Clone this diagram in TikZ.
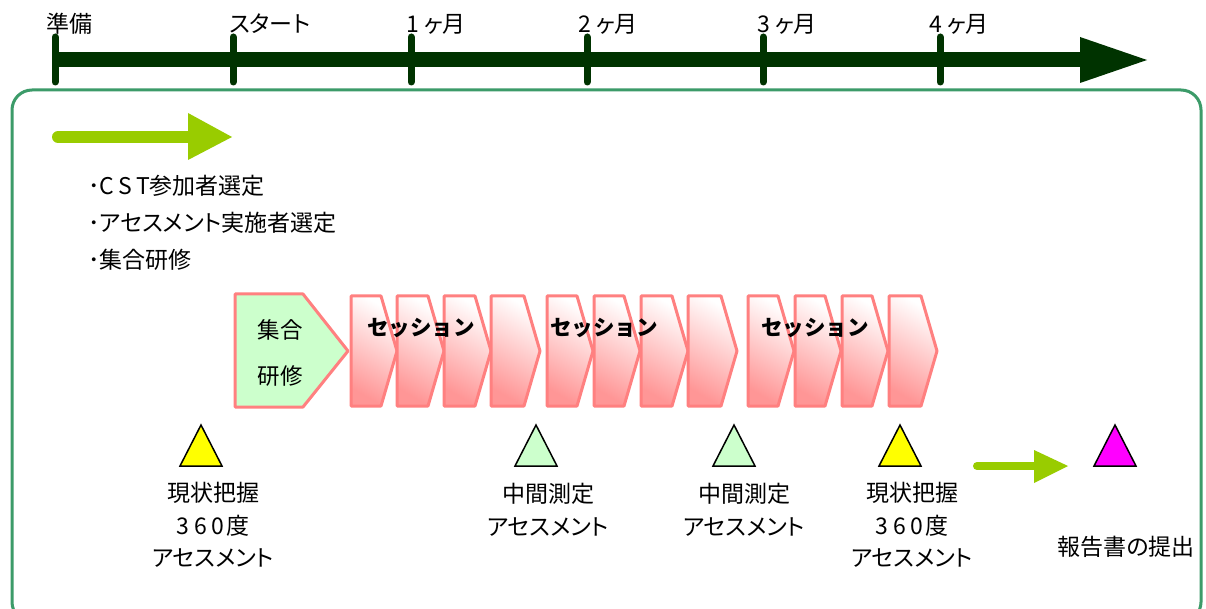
\documentclass[tikz,border=0pt]{standalone}
\usepackage{fontspec}
\setmainfont[RawFeature=+palt]{Noto Sans CJK JP}
\newfontfamily\jpfix{Noto Sans CJK JP}
\definecolor{tl}{RGB}{0,51,0}
\definecolor{lime}{RGB}{153,204,0}
\definecolor{frame}{RGB}{60,155,105}
\definecolor{pinkedge}{RGB}{255,128,128}
\definecolor{pinkfill}{RGB}{255,150,150}
\definecolor{lgreen}{RGB}{204,255,204}
\definecolor{yel}{RGB}{255,255,0}
\definecolor{mag}{RGB}{255,0,255}
\tikzset{
  txt/.style={inner sep=0pt, font=\fontsize{23}{25}\selectfont},
  toplabel/.style={txt, anchor=west},
  tick/.style={draw=tl, line width=7pt, line cap=round},
  chev/.style={draw=pinkedge, line width=3pt, line join=round, top color=white, bottom color=pinkfill, shading angle=-30},
  marker/.style={draw=black, line width=1.5pt, line join=miter},
  lbl/.style={inner sep=0pt, align=center, font=\fontsize{23}{32.5}\selectfont},
  sess/.style={inner sep=0pt, font=\jpfix\bfseries\fontsize{21.5}{25}\selectfont},
}
\begin{document}
\begin{tikzpicture}[x=1pt,y=-1pt]
\useasboundingbox[fill=white] (0,0) rectangle (1206,609);
% frame
\draw[frame, line width=3pt, rounded corners=20pt] (12,90) rectangle (1201,622);
% timeline
\coordinate (tlA) at (55,60);
\coordinate (tlB) at (1084,60);
\draw[tl, line width=15pt] (tlA) -- (tlB);
\fill[tl] (1080,37) -- (1147,60) -- (1080,83) -- cycle;
\foreach \x/\n in {55/t0,233/t1,411/t2,587/t3,763/t4,940/t5}{
  \coordinate (\n a) at (\x,37);
  \coordinate (\n b) at (\x,82);
  \draw[tick] (\n a) -- (\n b);
}
\node[toplabel] (l0) at (46,24) {準備};
\node[toplabel] (l1) at (229,24) {スタート};
\node[toplabel] (l2) at (406,24) {1 ヶ月};
\node[toplabel] (l3) at (578,24) {2 ヶ月};
\node[toplabel] (l4) at (757,24) {3 ヶ月};
\node[toplabel] (l5) at (929,24) {4 ヶ月};
% top green arrow
\coordinate (ga1) at (58,137);
\coordinate (ga2) at (190,137);
\draw[lime, line width=12pt, line cap=round] (ga1) -- (ga2);
\fill[lime] (188,113) -- (232,137) -- (188,160) -- cycle;
% list
\node[toplabel] (li1) at (88,186) {･C\kern4pt S\kern4pt T参加者選定};
\node[toplabel] (li2) at (88,223) {･アセスメント実施者選定};
\node[toplabel] (li3) at (88,260) {･集合研修};
% green pentagon
\path[draw=pinkedge, fill=lgreen, line width=3pt, line join=round] (235,294) -- (303,294) -- (348,351) -- (303,407) -- (235,407) -- cycle;
\node[lbl, font=\fontsize{22.5}{46}\selectfont] (shugo) at (280,353) {集合\\研修};
% chevrons
\foreach \x/\w in {351/46,397/47,444/47,491/49,547/46,594/46,641/47,688/49,748/46,795/46,842/46,889/48}{
  \path[chev] (\x,296) -- ({\x+\w-16},296) -- ({\x+\w},351) -- ({\x+\w-16},406) -- (\x,406) -- cycle;
}
\node[sess] (s1) at (421,328) {セッション};
\node[sess] (s2) at (604,328) {セッション};
\node[sess] (s3) at (815,328) {セッション};
% triangles
\path[marker, fill=yel] (180,466) -- (201,425) -- (222,466) -- cycle;
\path[marker, fill=lgreen] (515,466) -- (536,425) -- (557,466) -- cycle;
\path[marker, fill=lgreen] (713,466) -- (734,425) -- (755,466) -- cycle;
\path[marker, fill=yel] (879,466) -- (900,425) -- (921,466) -- cycle;
\path[marker, fill=mag] (1094,466) -- (1115,425) -- (1136,466) -- cycle;
\node[lbl] (a1) at (213,525) {現状把握\\3\kern5pt 6\kern5pt 0\kern2pt 度\\アセスメント};
\node[lbl] (a2) at (548,510) {中間測定\\アセスメント};
\node[lbl] (a3) at (744,510) {中間測定\\アセスメント};
\node[lbl] (a4) at (912,525) {現状把握\\3\kern5pt 6\kern5pt 0\kern2pt 度\\アセスメント};
% bottom arrow
\coordinate (gb1) at (977,466);
\coordinate (gb2) at (1036,466);
\draw[lime, line width=8pt, line cap=round] (gb1) -- (gb2);
\fill[lime] (1034,450) -- (1068,466) -- (1034,483) -- cycle;
\node[lbl] (rep) at (1126,547) {報告書の提出};
\end{tikzpicture}
\end{document}
